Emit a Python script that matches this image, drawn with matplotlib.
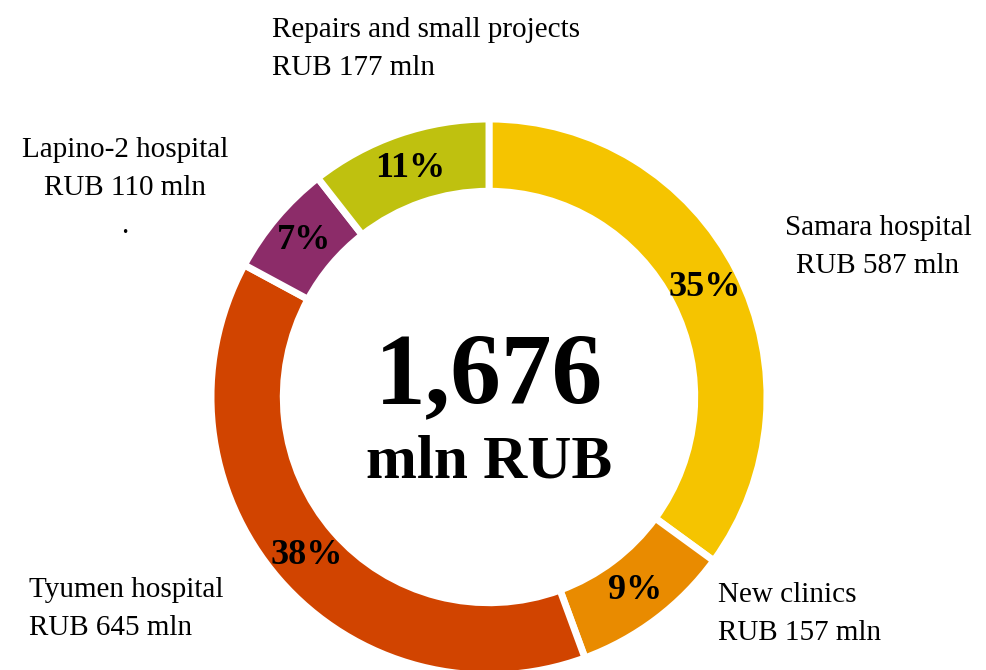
import matplotlib
matplotlib.use("Agg")
import matplotlib.pyplot as plt

# data
labels = ["Samara hospital", "New clinics", "Tyumen hospital", "Lapino-2 hospital", "Repairs and small projects"]
values = [587, 157, 645, 110, 177]
colors = ["#F5C400", "#E98B00", "#D14400", "#8C2C69", "#BFC10F"]
total_text = "1,676"
unit_text = "mln RUB"

plt.rcParams['font.family'] = ['Liberation Serif', 'DejaVu Serif']

W, H = 986, 670
fig = plt.figure(figsize=(W / 100, H / 100), dpi=100)

# donut centre / radius in pixels
cx, cy, R = 489, 397, 278
ax = fig.add_axes([(cx - R) / W, (H - cy - R) / H, 2 * R / W, 2 * R / H])

wedges, texts, autotexts = ax.pie(
    values, colors=colors, startangle=90, counterclock=False,
    radius=1.0, autopct='%.0f%%', pctdistance=0.87,
    wedgeprops=dict(width=0.26, edgecolor='white', linewidth=5),
    textprops=dict(fontsize=26, fontweight='bold', color='black'),
)
ax.set_xlim(-1, 1)
ax.set_ylim(-1, 1)
ax.axis('off')

# centre text
fig.text(cx / W, 1 - 403 / H, total_text, ha='center', va='baseline',
         fontsize=73, fontweight='bold')
fig.text(cx / W, 1 - 478 / H, unit_text, ha='center', va='baseline',
         fontsize=44, fontweight='bold')

# outer labels: (x, baseline y of first line, ha)
label_pos = [
    (878, 235, 'center'),
    (718, 602, 'left'),
    (29, 597, 'left'),
    (125, 157, 'center'),
    (272, 37, 'left'),
]
line_gap = 38
for name, val, (x, y, ha) in zip(labels, values, label_pos):
    fig.text(x / W, 1 - y / H, name, ha=ha, va='baseline', fontsize=21)
    fig.text(x / W, 1 - (y + line_gap) / H, f"RUB {val} mln", ha=ha, va='baseline', fontsize=21)

# stray dot under the Lapino-2 label
fig.text(125 / W, 1 - 233 / H, ".", ha='center', va='baseline', fontsize=21)

fig.savefig("out.png", dpi=100, facecolor='white')
